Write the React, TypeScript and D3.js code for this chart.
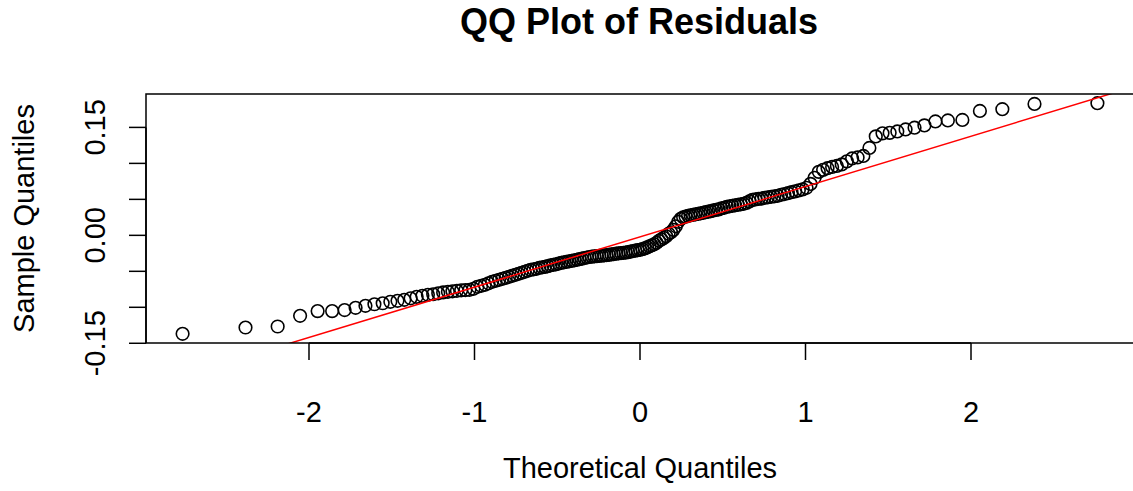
import React from "react";
import * as d3 from "d3";

// Sorted sample quantiles (residuals) (n = 175)
const sampleQuantiles: number[] = [
  -0.1368, -0.1281, -0.1267, -0.1118, -0.1053, -0.1053, -0.1039, -0.1007, -0.0979, -0.0958,
  -0.0944, -0.0924, -0.0910, -0.0896, -0.0875, -0.0854, -0.0840, -0.0826, -0.0819, -0.0806,
  -0.0794, -0.0785, -0.0778, -0.0771, -0.0764, -0.0760, -0.0757, -0.0743, -0.0715, -0.0701,
  -0.0688, -0.0667, -0.0646, -0.0632, -0.0618, -0.0604, -0.0590, -0.0576, -0.0563, -0.0549,
  -0.0535, -0.0521, -0.0507, -0.0493, -0.0479, -0.0472, -0.0465, -0.0451, -0.0444, -0.0438,
  -0.0428, -0.0417, -0.0410, -0.0403, -0.0392, -0.0382, -0.0375, -0.0368, -0.0361, -0.0354,
  -0.0347, -0.0340, -0.0331, -0.0324, -0.0315, -0.0308, -0.0301, -0.0296, -0.0292, -0.0289,
  -0.0285, -0.0282, -0.0278, -0.0274, -0.0271, -0.0265, -0.0260, -0.0254, -0.0250, -0.0246,
  -0.0243, -0.0239, -0.0233, -0.0226, -0.0219, -0.0213, -0.0206, -0.0201, -0.0192, -0.0181,
  -0.0167, -0.0153, -0.0139, -0.0125, -0.0104, -0.0076, -0.0056, -0.0035, -0.0014, 0.0021,
  0.0042, 0.0076, 0.0125, 0.0188, 0.0229, 0.0250, 0.0260, 0.0271, 0.0278, 0.0285,
  0.0292, 0.0299, 0.0306, 0.0313, 0.0322, 0.0329, 0.0336, 0.0347, 0.0354, 0.0361,
  0.0375, 0.0382, 0.0396, 0.0403, 0.0410, 0.0417, 0.0424, 0.0431, 0.0438, 0.0451,
  0.0472, 0.0493, 0.0500, 0.0507, 0.0511, 0.0521, 0.0528, 0.0535, 0.0542, 0.0549,
  0.0563, 0.0574, 0.0586, 0.0600, 0.0611, 0.0625, 0.0639, 0.0660, 0.0715, 0.0799,
  0.0882, 0.0910, 0.0933, 0.0951, 0.0965, 0.0986, 0.1028, 0.1069, 0.1083, 0.1104,
  0.1215, 0.1375, 0.1417, 0.1424, 0.1444, 0.1472, 0.1496, 0.1528, 0.1583, 0.1597,
  0.1604, 0.1729, 0.1753, 0.1826, 0.1836,
];

const xTicks: number[] = [-2, -1, 0, 1, 2];
const xTickLabels: string[] = ["-2", "-1", "0", "1", "2"];
const yTicks: number[] = [-0.15, -0.1, -0.05, 0, 0.05, 0.1, 0.15];
const yTickLabels: string[] = ["-0.15", "", "", "0.00", "", "", "0.15"];

// Reference (qqline)
const qqLineIntercept = -0.0021;
const qqLineSlope = 0.0699;

const titleText = "QQ Plot of Residuals";
const xLabelText = "Theoretical Quantiles";
const yLabelText = "Sample Quantiles";

// Inverse standard normal CDF (Acklam)
function qnorm(p: number): number {
  const a = [-3.969683028665376e1, 2.209460984245205e2, -2.759285104469687e2, 1.38357751867269e2, -3.066479806614716e1, 2.506628277459239];
  const b = [-5.447609879822406e1, 1.615858368580409e2, -1.556989798598866e2, 6.680131188771972e1, -1.328068155288572e1];
  const c = [-7.784894002430293e-3, -3.223964580411365e-1, -2.400758277161838, -2.549732539343734, 4.374664141464968, 2.938163982698783];
  const d = [7.784695709041462e-3, 3.224671290700398e-1, 2.445134137142996, 3.754408661907416];
  const plow = 0.02425;
  const phigh = 1 - plow;
  if (p < plow) {
    const q = Math.sqrt(-2 * Math.log(p));
    return (((((c[0] * q + c[1]) * q + c[2]) * q + c[3]) * q + c[4]) * q + c[5]) /
      ((((d[0] * q + d[1]) * q + d[2]) * q + d[3]) * q + 1);
  }
  if (p <= phigh) {
    const q = p - 0.5;
    const r = q * q;
    return ((((((a[0] * r + a[1]) * r + a[2]) * r + a[3]) * r + a[4]) * r + a[5]) * q) /
      (((((b[0] * r + b[1]) * r + b[2]) * r + b[3]) * r + b[4]) * r + 1);
  }
  const q = Math.sqrt(-2 * Math.log(1 - p));
  return -(((((c[0] * q + c[1]) * q + c[2]) * q + c[3]) * q + c[4]) * q + c[5]) /
    ((((d[0] * q + d[1]) * q + d[2]) * q + d[3]) * q + 1);
}

const W = 1133;
const H = 491;
const plotLeft = 146;
const plotRight = 1134;
const plotTop = 94;
const plotBottom = 343;
const FONT = "'Liberation Sans', Arial, Helvetica, sans-serif";

export default function App() {
  const n = sampleQuantiles.length;
  const points = sampleQuantiles.map((y, i) => ({ x: qnorm((i + 1 - 0.5) / n), y }));

  const xExt = d3.extent(points, (d) => d.x) as [number, number];
  const yExt = d3.extent(points, (d) => d.y) as [number, number];
  const xPad = (xExt[1] - xExt[0]) * 0.04;
  const yPad = (yExt[1] - yExt[0]) * 0.04;

  const x = d3.scaleLinear().domain([xExt[0] - xPad, xExt[1] + xPad]).range([plotLeft, plotRight]);
  const y = d3.scaleLinear().domain([yExt[0] - yPad, yExt[1] + yPad]).range([plotBottom, plotTop]);

  const lineGen = d3.line<number>()
    .x((t) => x(t))
    .y((t) => y(qqLineIntercept + qqLineSlope * t));
  const [d0, d1] = x.domain();
  const linePath = lineGen([d0 - 1, d1 + 1]) || "";

  const tickLen = 17;
  const midX = (plotLeft + plotRight) / 2;
  const midY = (plotTop + plotBottom) / 2;

  return (
    <svg width={W} height={H} style={{ position: "absolute", left: 0, top: 0, background: "#fff" }} fontFamily={FONT}>
      <defs>
        <clipPath id="plotClip">
          <rect x={plotLeft} y={plotTop} width={plotRight - plotLeft} height={plotBottom - plotTop} />
        </clipPath>
      </defs>
      <rect x={0} y={0} width={W} height={H} fill="#fff" />

      <text x={midX - 1} y={34} textAnchor="middle" fontSize={36} fontWeight="bold" fill="#000">
        {titleText}
      </text>

      {/* points */}
      <g clipPath="url(#plotClip)">
        {points.map((p, i) => (
          <circle key={i} cx={x(p.x)} cy={y(p.y)} r={6.3} fill="none" stroke="#000" strokeWidth={1.6} />
        ))}
        <path d={linePath} stroke="#ff0000" strokeWidth={1.5} fill="none" />
      </g>

      {/* box */}
      <rect x={plotLeft} y={plotTop} width={plotRight - plotLeft} height={plotBottom - plotTop} fill="none" stroke="#000" strokeWidth={1.5} />

      {/* x axis */}
      <g>
        <line x1={x(xTicks[0])} x2={x(xTicks[xTicks.length - 1])} y1={plotBottom} y2={plotBottom} stroke="#000" strokeWidth={1.5} />
        {xTicks.map((t, i) => (
          <g key={i}>
            <line x1={x(t)} x2={x(t)} y1={plotBottom} y2={plotBottom + tickLen} stroke="#000" strokeWidth={1.5} />
            <text x={x(t)} y={422} textAnchor="middle" fontSize={29} fill="#000">{xTickLabels[i]}</text>
          </g>
        ))}
      </g>

      {/* y axis */}
      <g>
        <line x1={plotLeft} x2={plotLeft} y1={y(yTicks[0])} y2={y(yTicks[yTicks.length - 1])} stroke="#000" strokeWidth={1.5} />
        {yTicks.map((t, i) => (
          <g key={i}>
            <line x1={plotLeft - tickLen} x2={plotLeft} y1={y(t)} y2={y(t)} stroke="#000" strokeWidth={1.5} />
            {yTickLabels[i] !== "" && (
              <text transform={`translate(105,${y(t)}) rotate(-90)`} textAnchor="middle" fontSize={29} fill="#000">
                {yTickLabels[i]}
              </text>
            )}
          </g>
        ))}
      </g>

      <text x={midX} y={478} textAnchor="middle" fontSize={29} fill="#000">{xLabelText}</text>
      <text transform={`translate(34,${midY}) rotate(-90)`} textAnchor="middle" fontSize={29} fill="#000">{yLabelText}</text>
    </svg>
  );
}
